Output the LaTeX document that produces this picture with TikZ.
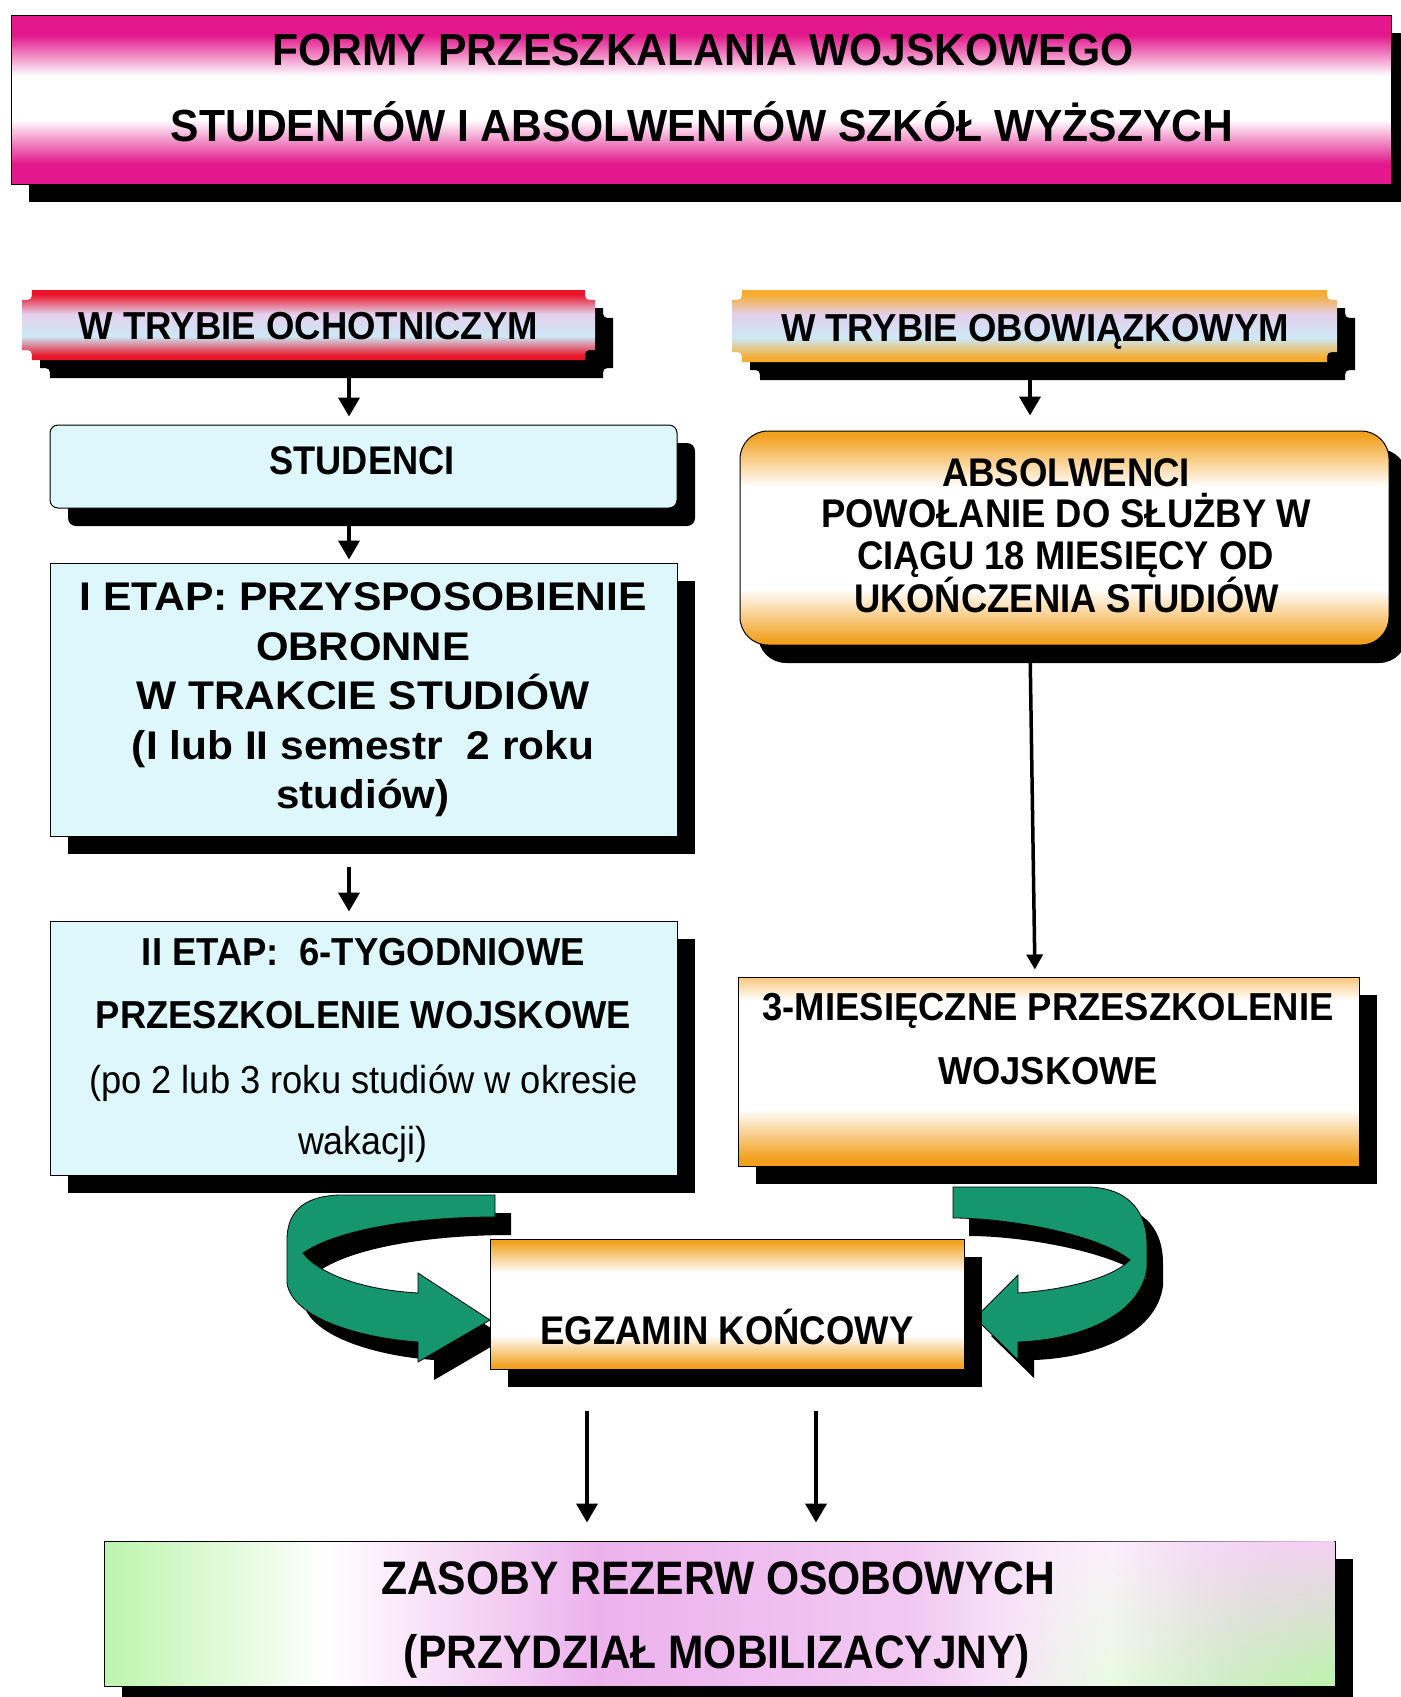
\documentclass[tikz,border=0pt]{standalone}
\usepackage{fontspec}
\setmainfont{Liberation Sans}
\usepackage{graphicx}
\usetikzlibrary{arrows.meta,shadows,fadings}
\definecolor{cMag}{RGB}{226,24,140}
\definecolor{cRed}{RGB}{232,20,40}
\definecolor{cLav}{RGB}{228,208,238}
\definecolor{cLb}{RGB}{205,232,246}
\definecolor{cOr}{RGB}{242,160,30}
\definecolor{cOrP}{RGB}{245,172,48}
\definecolor{cCy}{RGB}{221,247,250}
\definecolor{cGr}{RGB}{22,150,108}
\definecolor{cZg}{RGB}{188,245,172}
\definecolor{cZp}{RGB}{236,178,236}
\pgfdeclareverticalshading{magband}{100bp}{color(0bp)=(cMag); color(31bp)=(cMag); color(44bp)=(white); color(57bp)=(white); color(69bp)=(cMag); color(100bp)=(cMag)}
\pgfdeclareverticalshading{redband}{100bp}{color(0bp)=(cRed); color(28bp)=(cRed); color(42bp)=(cLb); color(58bp)=(cLav); color(72bp)=(cRed); color(100bp)=(cRed)}
\pgfdeclareverticalshading{orpband}{100bp}{color(0bp)=(cOrP); color(28bp)=(cOrP); color(42bp)=(cLb); color(58bp)=(cLav); color(72bp)=(cOrP); color(100bp)=(cOrP)}
\pgfdeclareverticalshading{orband}{100bp}{color(0bp)=(cOr); color(26bp)=(cOr); color(38bp)=(white); color(62bp)=(white); color(74bp)=(cOr); color(100bp)=(cOr)}
\pgfdeclareverticalshading{miesband}{100bp}{color(0bp)=(cOr); color(27bp)=(cOr); color(40bp)=(white); color(69bp)=(white); color(75bp)=(cOr!60!white); color(100bp)=(cOr!60!white)}
\pgfdeclarehorizontalshading{zasband}{100bp}{color(0bp)=(cZg); color(25bp)=(cZg); color(34bp)=(white); color(45bp)=(cZp); color(58bp)=(cZp!70!white); color(66bp)=(white); color(75bp)=(cZp!70!white); color(100bp)=(cZp!70!white)}
\newcommand\fw[2]{\resizebox{#1pt}{\height}{#2}}
\pgfdeclarelayer{bg}
\pgfsetlayers{bg,main}
\tikzset{
  shd/.style={drop shadow={shadow xshift=18pt,shadow yshift=-18pt,fill=black,opacity=1}},
  boxn/.style={shd,draw=black,line width=1pt,inner sep=0pt},
  anch/.style={inner sep=0pt,draw=none},
  txt/.style={inner sep=0pt,anchor=base},
  bf/.style={font=\bfseries\fontsize{#1}{#1}\selectfont},
  rg/.style={font=\fontsize{#1}{#1}\selectfont},
  arr/.style={line width=4pt,-{Triangle[length=19pt,width=21pt]}},
  arrthin/.style={line width=3.5pt,-{Triangle[length=15pt,width=16pt]}}
}
\begin{document}
\begin{tikzpicture}[x=1pt,y=-1pt]
\useasboundingbox (0,0) rectangle (1400,1697);
\begin{pgfonlayer}{bg}
\fill[white] (0,0) rectangle (1400,1697);
\end{pgfonlayer}

% title
\node[boxn,shade,shading=magband,minimum width=1380pt,minimum height=169pt] (title) at (701,99.5) {};

% plaques
\shade[shading=redband,shd] (32,290) -- (585,290) .. controls (585,300) .. (595,300) -- (595,350) .. controls (585,350) .. (585,360) -- (32,360) .. controls (32,350) .. (22,350) -- (22,300) .. controls (32,300) .. (32,290) -- cycle;
\node[anch,minimum width=573pt,minimum height=70pt] (ochot) at (308.5,325) {};
\shade[shading=orpband,shd] (742,290) -- (1327,290) .. controls (1327,300) .. (1337,300) -- (1337,352) .. controls (1327,352) .. (1327,362) -- (742,362) .. controls (742,352) .. (732,352) -- (732,300) .. controls (742,300) .. (742,290) -- cycle;
\node[anch,minimum width=605pt,minimum height=72pt] (obow) at (1034.5,326) {};

% boxes
\node[boxn,fill=cCy,rounded corners=8pt,minimum width=627pt,minimum height=83pt] (stud) at (363.5,466.5) {};
\node[boxn,fill=cCy,minimum width=627pt,minimum height=273pt] (etap1) at (363.5,699.5) {};
\node[boxn,fill=cCy,minimum width=627pt,minimum height=254pt] (etap2) at (363.5,1048) {};
\node[boxn,shade,shading=orband,rounded corners=28pt,minimum width=649pt,minimum height=214pt] (absol) at (1064.5,538) {};
\node[boxn,shade,shading=miesband,minimum width=621pt,minimum height=189pt] (mies) at (1048.5,1071.5) {};
\node[boxn,shade,shading=orband,minimum width=474pt,minimum height=130pt] (egz) at (727,1304) {};
\node[boxn,shade,shading=zasband,minimum width=1231pt,minimum height=145pt] (zas) at (719.5,1613.5) {};
\shade[top color=cZp!60!white,bottom color=cZg,path fading=west] (1000,1541.5) rectangle (1334.5,1685.5);

% connectors
\coordinate (xa) at (349,0);
\coordinate (xb) at (1030,0);
\coordinate (xb2) at (1035,0);
\coordinate (xc) at (587,0);
\coordinate (xd) at (816,0);
\begin{pgfonlayer}{bg}
\draw[arr,shorten >=8pt] (ochot.south -| xa) -- (stud.north -| xa);
\draw[arr,shorten >=3pt] (stud.south -| xa) -- (etap1.north -| xa);
\draw[arr,shorten <=30pt,shorten >=9pt] (etap1.south -| xa) -- (etap2.north -| xa);
\draw[arr,shorten >=15pt] (obow.south -| xb) -- (absol.north -| xb);
\draw[arrthin,shorten >=7pt] (absol.south -| xb) -- (mies.north -| xb2);
\draw[arr,shorten <=41pt,shorten >=18pt] (egz.south -| xc) -- (zas.north -| xc);
\draw[arr,shorten <=41pt,shorten >=18pt] (egz.south -| xd) -- (zas.north -| xd);
% green ribbons with shadows
\begin{scope}[xshift=16pt,yshift=-18pt]
\fill[black] (495,1195) -- (340,1195) .. controls (300,1196) and (287,1215) .. (287,1240) -- (287,1283) .. controls (292,1318) and (360,1338) .. (418,1342) -- (418,1362) -- (490,1320) -- (418,1273) -- (418,1293) .. controls (365,1290) and (320,1275) .. (303,1253) .. controls (340,1228) and (420,1217) .. (495,1217) -- cycle;
\fill[black] (953,1187) -- (1090,1187) .. controls (1132,1189) and (1147,1215) .. (1147,1245) -- (1147,1268) .. controls (1140,1318) and (1075,1340) .. (1018,1342) -- (1018,1360) -- (975,1318) -- (1018,1275) -- (1018,1293) .. controls (1060,1290) and (1110,1280) .. (1130,1260) .. controls (1100,1235) and (1010,1218) .. (953,1218) -- cycle;
\end{scope}
\fill[cGr,draw=black,line width=0.8pt] (495,1195) -- (340,1195) .. controls (300,1196) and (287,1215) .. (287,1240) -- (287,1283) .. controls (292,1318) and (360,1338) .. (418,1342) -- (418,1362) -- (490,1320) -- (418,1273) -- (418,1293) .. controls (365,1290) and (320,1275) .. (303,1253) .. controls (340,1228) and (420,1217) .. (495,1217) -- cycle;
\fill[cGr,draw=black,line width=0.8pt] (953,1187) -- (1090,1187) .. controls (1132,1189) and (1147,1215) .. (1147,1245) -- (1147,1268) .. controls (1140,1318) and (1075,1340) .. (1018,1342) -- (1018,1360) -- (975,1318) -- (1018,1275) -- (1018,1293) .. controls (1060,1290) and (1110,1280) .. (1130,1260) .. controls (1100,1235) and (1010,1218) .. (953,1218) -- cycle;
\end{pgfonlayer}

% texts
\node[txt,bf=45] (tl1) at (703,65) {\fw{861}{FORMY PRZESZKALANIA WOJSKOWEGO}};
\node[txt,bf=45] (tl2) at (702,141) {\fw{1062}{STUDENTÓW I ABSOLWENTÓW SZKÓŁ WYŻSZYCH}};
\node[txt,bf=39] (tochot) at (308.5,339) {\fw{459}{W TRYBIE OCHOTNICZYM}};
\node[txt,bf=39] (tobow) at (1035,341) {\fw{508}{W TRYBIE OBOWIĄZKOWYM}};
\node[txt,bf=40] (tstud) at (362,474) {\fw{185}{STUDENCI}};
\node[txt,bf=40] (te1a) at (363,610) {\fw{567}{I ETAP: PRZYSPOSOBIENIE}};
\node[txt,bf=40] (te1b) at (363,660) {\fw{214}{OBRONNE}};
\node[txt,bf=40] (te1c) at (363,709) {\fw{453}{W TRAKCIE STUDIÓW}};
\node[txt,bf=40] (te1d) at (363,759) {\fw{462}{(I lub II semestr~~2 roku}};
\node[txt,bf=40] (te1e) at (363,808) {\fw{173}{studiów)}};
\node[txt,bf=39] (te2a) at (363.5,965) {\fw{443}{II ETAP:~~6-TYGODNIOWE}};
\node[txt,bf=39] (te2b) at (363.5,1028) {\fw{535}{PRZESZKOLENIE WOJSKOWE}};
\node[txt,rg=39] (te2c) at (363.5,1093) {\fw{549}{(po 2 lub 3 roku studiów w okresie}};
\node[txt,rg=39] (te2d) at (362.5,1154) {\fw{129}{wakacji)}};
\node[txt,bf=40] (tab1) at (1066,486) {\fw{248}{ABSOLWENCI}};
\node[txt,bf=40] (tab2) at (1066,527) {\fw{490}{POWOŁANIE DO SŁUŻBY W}};
\node[txt,bf=40] (tab3) at (1065.5,569) {\fw{417}{CIĄGU 18 MIESIĘCY OD}};
\node[txt,bf=40] (tab4) at (1066.5,612) {\fw{425}{UKOŃCZENIA STUDIÓW}};
\node[txt,bf=39] (tm1) at (1048,1020) {\fw{571}{3-MIESIĘCZNE PRZESZKOLENIE}};
\node[txt,bf=39] (tm2) at (1048,1084) {\fw{220}{WOJSKOWE}};
\node[txt,bf=40] (tegz) at (727,1344) {\fw{373}{EGZAMIN KOŃCOWY}};
\node[txt,bf=47] (tz1) at (718,1594) {\fw{674}{ZASOBY REZERW OSOBOWYCH}};
\node[txt,bf=47] (tz2) at (717,1668) {\fw{626}{(PRZYDZIAŁ MOBILIZACYJNY)}};
\end{tikzpicture}
\end{document}
